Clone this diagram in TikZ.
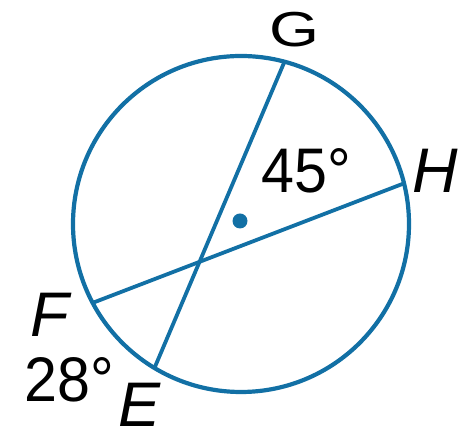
\documentclass[tikz,border=0pt]{standalone}
\usepackage{fontspec}
\setmainfont{Liberation Sans}
\usetikzlibrary{calc}
\definecolor{chordblue}{RGB}{18,112,165}

\begin{document}
\begin{tikzpicture}[x=1pt,y=1pt,lbl/.style={font=\fontsize{63}{72}\selectfont,inner sep=0pt,anchor=base west}]
\useasboundingbox (0,0) rectangle (459,441);
\coordinate (O) at (241,217); \coordinate (P) at (240,220);
\coordinate (G) at ($(O)+(75:168pt)$); \coordinate (H) at ($(O)+(14:168pt)$);
\coordinate (F) at ($(O)+(208:168pt)$); \coordinate (E) at ($(O)+(239:168pt)$);
\draw[chordblue,line width=4.2pt] (O) circle (168pt);
\draw[chordblue,line width=3.8pt] (G)--(E); \draw[chordblue,line width=3.8pt] (F)--(H);
\fill[chordblue] (P) circle (7.5pt);
\node[lbl] (labG) at (269,394) {\scalebox{1.02}[0.78]{G}};
\foreach \p/\x/\y in {H/412/248,F/30/104,E/118/14} \node[lbl] (lab\p) at (\x,\y) {\itshape\p};
\node[lbl] (arcGH) at (261,248) {\scalebox{0.94}[1]{45°}};
\node[lbl] (arcFE) at (24,39) {\scalebox{0.94}[1]{28°}};
\end{tikzpicture}
\end{document}
